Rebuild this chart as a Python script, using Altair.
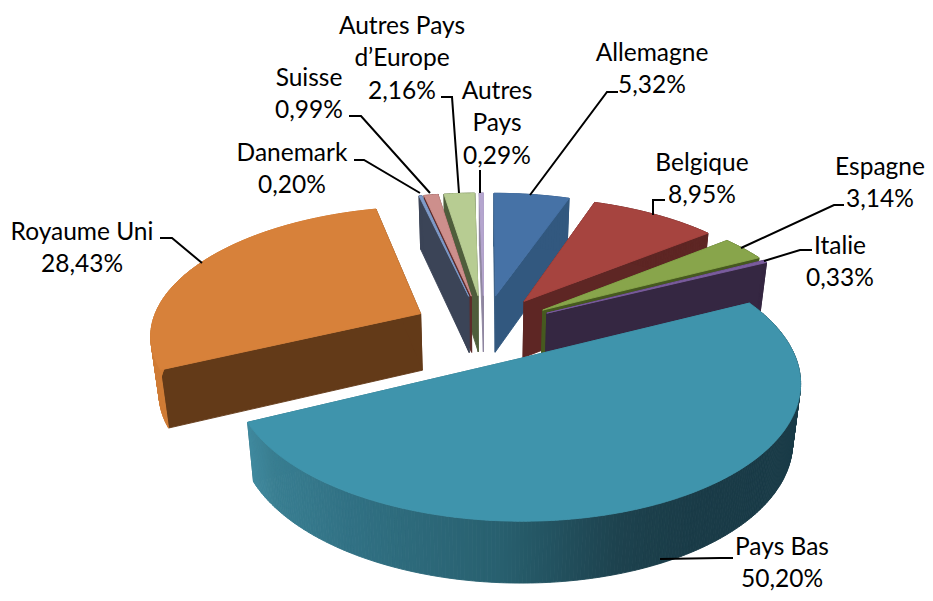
import math
import altair as alt
import pandas as pd

# --- chart values, clockwise from 12 o'clock
names = ["Allemagne", "Belgique", "Espagne", "Italie", "Pays Bas", "Royaume Uni",
         "Danemark", "Suisse", "Autres Pays d'Europe", "Autres Pays"]
shares = [5.32, 8.95, 3.14, 0.33, 50.20, 28.43, 0.20, 0.99, 2.16, 0.29]
top_colors = ["#4672a6", "#a6443f", "#88a54b", "#7a5c9e", "#3f94ac", "#d7813a",
              "#7f9bc9", "#cd8f8c", "#b7cc92", "#b5a6cf"]
wall_colors = ["#32587f", "#5e2624", "#46591f", "#352742", "#2f7385", "#633a18",
               "#3b4457", "#5e2b2a", "#4f5d3c", "#8f86a0"]
rim_colors = ["#32587f", "#5e2624", "#46591f", "#352742", "#3c8193", "#cf7c35",
              "#3b4457", "#5e2b2a", "#4f5d3c", "#8f86a0"]
draw_order = [9, 8, 7, 6, 0, 1, 2, 3, 5, 4]

# shading of the large slice's rim, by screen position
rim_stop_x = [245, 270, 350, 500, 620, 700]
rim_stop_c = ["#418ba0", "#3a7f92", "#317184", "#28606f", "#1d424e", "#1a3b47"]

label_lines = [["Allemagne"], ["Belgique"], ["Espagne"], ["Italie"], ["Pays Bas"], ["Royaume Uni"],
               ["Danemark"], ["Suisse"], ["Autres Pays", "d\u2019Europe"], ["Autres", "Pays"]]
label_x = [652, 702, 880, 840, 782, 82, 292, 309, 402, 497]
label_y = [54, 164, 168, 247, 548, 233, 154, 79, 27, 92]
leaders = [
    [(618, 92), (607, 92), (530, 195)],
    [(665, 200), (653, 200), (653, 215)],
    [(844, 205), (834, 205), (741, 248)],
    [(812, 250), (800, 250), (764, 261)],
    [(733, 558), (720, 558), (660, 559)],
    [(160, 238), (172, 238), (202, 263)],
    [(354, 160), (364, 160), (420, 193)],
    [(349, 116), (361, 116), (430, 193)],
    [(441, 97), (452, 97), (459, 193)],
    [(480, 170), (480, 193)],
]

# --- pie geometry
CX, CY, A, B, K, EXPLODE, DEPTH, LEAN = 484.0, 328.0, 270.0, 127.0, 0.15, 0.265, 57.0, 0.975


def project(px, py, lower=False):
    p = 1.0 / (1.0 + K * py)
    sx = CX + A * px * p
    sy = CY - B * py * p
    if lower:
        sx = CX + (sx - CX) * LEAN
        sy = sy + DEPTH * p ** 0.4
    return sx, sy


rows = []
pid = 0


def add_poly(points, colour):
    global pid
    pid += 1
    pts = list(points) + [points[0]]
    for i, (x, y) in enumerate(pts):
        rows.append({"poly": pid, "i": i, "x": x, "y": y, "c": colour})


def mix(c1, c2, t):
    a = [int(c1[j:j + 2], 16) for j in (1, 3, 5)]
    b = [int(c2[j:j + 2], 16) for j in (1, 3, 5)]
    return "#" + "".join(f"{round(u + (v - u) * t):02x}" for u, v in zip(a, b))


def rim_shade(x):
    if x <= rim_stop_x[0]:
        return rim_stop_c[0]
    for j in range(len(rim_stop_x) - 1):
        if x <= rim_stop_x[j + 1]:
            return mix(rim_stop_c[j], rim_stop_c[j + 1],
                       (x - rim_stop_x[j]) / (rim_stop_x[j + 1] - rim_stop_x[j]))
    return rim_stop_c[-1]


total = sum(shares)
starts = []
s = 0.0
for v in shares:
    starts.append(s)
    s += v

for idx in draw_order:
    a0 = starts[idx] / total * 2 * math.pi
    a1 = (starts[idx] + shares[idx]) / total * 2 * math.pi
    m = (a0 + a1) / 2
    ox, oy = EXPLODE * math.sin(m), EXPLODE * math.cos(m)
    n = max(3, int((a1 - a0) / 0.012))
    arc = [a0 + (a1 - a0) * j / n for j in range(n + 1)]
    rim = [(ox + math.sin(t), oy + math.cos(t)) for t in arc]
    apex = (ox, oy)
    for end in (rim[0], rim[-1]):
        add_poly([project(*apex), project(*end), project(*end, True), project(*apex, True)], wall_colors[idx])
    for j in range(n):
        col = rim_colors[idx]
        if names[idx] == "Pays Bas":
            col = rim_shade(project(*rim[j])[0])
        add_poly([project(*rim[j]), project(*rim[j + 1]), project(*rim[j + 1], True), project(*rim[j], True)], col)
    add_poly([project(*apex)] + [project(*q) for q in rim], top_colors[idx])

poly_df = pd.DataFrame(rows)

x_scale = alt.Scale(domain=[8, 925], nice=False, zero=False)
y_scale = alt.Scale(domain=[593, 8], nice=False, zero=False)

polys = alt.Chart(poly_df).mark_line(strokeWidth=0.9, interpolate="linear").encode(
    x=alt.X("x:Q", scale=x_scale, axis=None),
    y=alt.Y("y:Q", scale=y_scale, axis=None),
    detail="poly:N",
    order="i:Q",
    fill=alt.Fill("c:N", scale=None),
    stroke=alt.Stroke("c:N", scale=None),
)

lead_rows = []
for k, pts in enumerate(leaders):
    for i, (x, y) in enumerate(pts):
        lead_rows.append({"k": k, "i": i, "x": x, "y": y})
lead = alt.Chart(pd.DataFrame(lead_rows)).mark_line(color="#000000", strokeWidth=2).encode(
    x=alt.X("x:Q", scale=x_scale, axis=None),
    y=alt.Y("y:Q", scale=y_scale, axis=None),
    detail="k:N",
    order="i:Q",
)

text_rows = []
for k in range(len(names)):
    lines = label_lines[k] + [f"{shares[k]:.2f}%".replace(".", ",")]
    for j, t in enumerate(lines):
        text_rows.append({"x": label_x[k], "y": label_y[k] + j * 32.3, "t": t})
text = alt.Chart(pd.DataFrame(text_rows)).mark_text(
    font="Lato", fontSize=24.5, color="#000000", baseline="middle", align="center"
).encode(
    x=alt.X("x:Q", scale=x_scale, axis=None),
    y=alt.Y("y:Q", scale=y_scale, axis=None),
    text="t:N",
)

chart = alt.layer(polys, lead, text).properties(
    width=917, height=585, padding=0, autosize=alt.AutoSizeParams(type="none")
).configure_view(stroke=None)

chart.save("out.html", embed_options={"renderer": "svg", "actions": False})
